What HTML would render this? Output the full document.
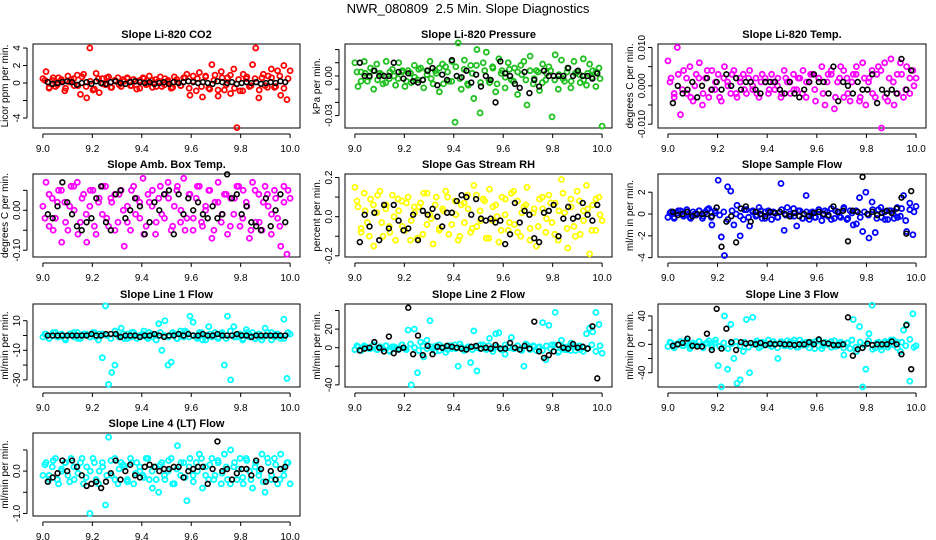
<!DOCTYPE html>
<html><head><meta charset="utf-8"><style>
html,body{margin:0;padding:0;background:#fff;width:936px;height:540px;overflow:hidden}
svg{display:block;font-family:"Liberation Sans",sans-serif}
</style></head><body>
<svg id="chart" width="936" height="540" viewBox="0 0 936 540">
<text x="468" y="13" text-anchor="middle" font-size="13" xml:space="preserve">NWR_080809  2.5 Min. Slope Diagnostics</text>
</svg>
<script>
const titles=["Slope Li-820 CO2","Slope Li-820 Pressure","Slope Li-820 Temp.","Slope Amb. Box Temp.","Slope Gas Stream RH","Slope Sample Flow","Slope Line 1 Flow","Slope Line 2 Flow","Slope Line 3 Flow","Slope Line 4 (LT) Flow"];
const yTitles=["Licor ppm per min.","kPa per min.","degrees C per min.","degrees C per min.","percent per min.","ml/m in per min.","ml/min per min.","ml/min per min.","ml/min per min.","ml/min per min."];
const colors=["#ff0000","#1fc01f","#ff00ff","#ff00ff","#ffff00","#0000ff","#00ffff","#00ffff","#00ffff","#00ffff"];
const xTicks=[9.0,9.2,9.4,9.6,9.8,10.0];
const xTickLabels=["9.0","9.2","9.4","9.6","9.8","10.0"];
const yTicks=[[-4,-2,0,2,4],[-0.03,-0.02,-0.01,0,0.01,0.02],[-0.01,-0.005,0,0.005,0.01],[-0.1,-0.05,0,0.05],[-0.2,-0.1,0,0.1,0.2],[-4,-2,0,2],[-30,-20,-10,0,10],[-40,-20,0,20,40],[-40,-20,0,20,40],[-1,-0.5,0,0.5]];
const yTickLabels=[["-4","","0","2","4"],["-0.03","","","0.00","",""],["-0.010","","0.000","","0.010"],["-0.10","","0.00",""],["-0.2","","0.0","","0.2"],["-4","-2","0","2"],["-30","","-10","","10"],["-40","","0","20",""],["-40","","0","","40"],["-1.0","","0.0",""]];
const yLims=[[-5.14,4.46],[-0.0394,0.0242],[-0.011,0.0109],[-0.117,0.0908],[-0.206,0.218],[-3.94,3.67],[-34.8,21.3],[-42.3,47],[-60.1,56.8],[-1.06,0.9]];
const colVals=[
[0.5,1.3,-0.6,0.3,-0.4,0.6,0.2,-0.9,0.8,0.4,-0.3,0.9,-1.3,1.0,-1.7,4.0,-0.8,1.1,-1.1,0.5,-0.2,0.7,-0.5,0.3,0.6,-0.4,0.2,0.5,-0.3,0.4,-0.7,0.3,0.6,-0.2,0.8,-0.5,0.4,0.2,-0.4,0.5,0.3,-0.6,0.7,0.1,-0.3,0.6,1.0,-1.4,0.8,-0.9,1.2,-1.6,0.7,-0.6,2.1,0.9,-1.5,1.3,-0.8,0.6,-1.2,1.6,-5.1,-0.9,1.0,0.5,-0.4,2.1,4.0,-1.7,0.6,-0.3,0.8,1.6,-0.5,1.4,-1.4,2.0,-1.9,1.4],
[0.010,-0.008,0.003,0.011,-0.004,0.006,-0.010,0.009,0.002,-0.006,0.011,-0.002,0.005,-0.007,0.010,0.003,-0.008,0.004,-0.005,0.008,-0.003,0.006,-0.009,0.004,0.011,-0.006,0.002,-0.012,0.009,0.007,-0.004,0.011,-0.035,0.025,-0.010,0.012,-0.006,0.008,-0.017,0.020,-0.028,0.010,0.018,-0.005,0.007,-0.012,0.013,0.004,-0.009,0.010,-0.003,0.006,-0.014,0.008,0.011,-0.022,0.015,-0.006,0.004,-0.011,0.009,-0.003,0.007,-0.031,0.016,-0.010,0.012,-0.004,0.006,-0.009,0.011,0.003,-0.005,0.013,-0.007,0.009,0.004,-0.008,0.006,-0.038],
[0.0065,0.002,-0.003,0.010,-0.0075,0.004,-0.002,0.005,-0.004,0.003,0.006,-0.005,0.002,-0.003,0.004,-0.001,0.003,-0.004,0.005,0.001,-0.002,0.004,-0.003,0.002,0.003,-0.002,0.004,-0.001,0.002,-0.003,0.003,0.001,-0.002,0.003,-0.001,0.002,-0.003,0.004,0.001,-0.002,0.003,-0.001,0.002,0.004,-0.003,0.001,0.003,-0.004,0.002,0.005,-0.005,0.003,0.004,-0.006,0.001,0.005,-0.003,0.002,-0.004,0.003,0.005,-0.004,0.006,-0.005,0.002,0.004,-0.003,0.005,-0.011,0.006,-0.004,0.007,-0.005,0.003,0.006,-0.003,0.005,-0.002,0.004,0.002],
[0.01,0.07,-0.04,0.03,-0.02,0.05,-0.08,0.02,-0.05,0.06,0.00,0.07,-0.03,0.04,-0.08,0.01,0.05,-0.06,0.03,-0.01,0.06,-0.04,0.02,0.04,-0.03,0.05,-0.09,0.01,-0.05,0.06,0.03,-0.02,0.08,-0.04,0.02,0.05,-0.06,0.03,-0.01,0.04,0.07,-0.05,0.01,0.06,-0.03,0.08,-0.02,0.04,-0.05,0.03,0.06,-0.04,0.00,0.05,-0.07,0.02,0.07,-0.03,0.04,-0.06,0.03,-0.01,0.06,-0.04,0.05,0.02,-0.07,0.07,-0.03,0.04,-0.05,0.06,0.01,-0.06,0.05,-0.02,-0.09,0.06,-0.11,0.03],
[0.15,0.05,-0.08,0.12,-0.03,0.09,-0.15,0.02,0.13,-0.10,0.06,-0.05,0.11,-0.12,0.03,0.08,-0.07,0.10,-0.02,0.05,-0.11,0.07,0.12,-0.04,0.01,-0.14,0.10,-0.06,0.04,0.13,-0.09,0.02,0.08,-0.12,0.06,-0.03,0.11,-0.08,0.16,-0.05,0.03,0.09,-0.11,0.14,-0.02,0.06,-0.13,0.10,0.01,-0.07,0.12,-0.04,0.08,-0.10,0.05,0.15,-0.06,0.02,-0.15,0.09,0.04,-0.08,0.11,-0.03,0.07,-0.12,0.19,0.02,-0.16,0.09,-0.05,0.13,-0.09,0.03,0.16,-0.19,0.06,-0.07,0.10,-0.02],
[-0.3,0.2,-0.4,0.1,0.3,-0.2,0.4,-0.3,0.2,-0.1,0.3,-0.4,0.2,0.5,-1.0,0.3,3.1,-2.1,-3.8,2.5,2.1,-1.0,0.8,-2.0,-0.5,0.4,-1.1,0.3,-0.2,0.6,-0.4,0.2,0.3,-0.5,0.1,-0.3,2.8,-1.5,0.6,-0.2,0.5,-1.1,0.3,-0.4,1.7,-0.5,0.2,-0.3,0.4,-0.6,0.3,-0.2,0.5,-0.4,0.2,-0.3,0.6,-0.5,0.3,-1.0,-0.9,1.5,-1.6,2.0,-2.2,1.1,-1.7,0.4,-0.3,0.2,-0.5,0.3,-0.4,0.6,-0.2,1.7,-1.6,1.0,-1.9,0.7],
[-1,1,-2,0,2,-1,1,-2,0,1,-1,2,-2,1,0,-1,2,-1,1,-15,20,-33,-25,-20,0,5,-2,1,-1,2,-2,0,1,-1,2,-1,0,8,-10,10,-20,-18,1,-2,3,-1,2,13,9,-1,2,-3,0,6,-1,2,-2,1,-20,13,-30,6,-1,1,-2,4,-1,2,-2,1,-3,5,0,2,-1,1,-2,11,-29,1],
[-2,1,-3,2,0,-1,3,-2,1,-1,2,-3,1,0,-2,3,-1,19,-40,20,-27,6,-10,8,29,-1,2,-3,1,-5,2,-1,3,-20,1,-2,0,-16,18,-25,-1,3,-2,10,-1,15,16,-2,-7,1,11,-1,2,-2,-20,3,-1,2,-3,1,27,-13,24,3,38,-5,8,-2,1,-3,2,0,-2,-4,15,21,17,38,25,-6],
[-3,2,-5,1,4,-2,3,-6,2,-1,4,-3,1,5,-4,2,-30,-60,40,-35,28,-20,-55,-50,-10,35,-40,38,2,-5,3,-1,6,-3,1,-20,4,-2,5,-3,2,-4,6,-1,3,-5,2,4,-2,-6,3,1,-4,5,-2,3,-15,2,-6,35,-10,25,-60,-35,15,55,-5,3,-8,2,-4,6,-1,3,-10,20,28,-52,43,-2],
[-0.1,0.2,-0.2,0.1,0.3,-0.3,0.0,0.2,-0.1,0.3,-0.2,0.1,0.2,-0.3,0.1,-1.0,0.3,-0.2,0.0,0.2,-0.8,0.8,-0.1,0.3,-0.3,0.2,0.1,-0.2,0.3,-0.3,0.2,0.0,-0.1,0.3,-0.2,-0.4,0.1,-0.5,0.2,-0.2,0.0,0.3,-0.3,0.6,-0.1,0.2,-0.7,0.3,-0.1,0.2,0.4,-0.4,0.1,-0.2,0.3,-0.1,0.2,-0.3,0.4,-0.2,0.5,0.1,-0.2,0.3,-0.3,0.3,0.0,-0.4,0.2,-0.1,0.4,-0.5,0.2,-0.2,0.3,-0.3,0.4,-0.1,0.2,-0.3]
];
const bandVals=[
[0.3,-0.5,0.6,-0.2,0.4,-0.6,0.1,0.5,-0.3,0.7,-0.4,0.2,-0.7,0.5,-0.1,0.6,-0.5,0.3,-0.2,0.4,0.6,-0.3,0.2,-0.6,0.5,-0.1,0.3,-0.4,0.7,-0.2,0.1,-0.5,0.4,-0.3,0.6,-0.6,0.2,0.5,-0.4,0.8,-0.7,0.3,-0.8,0.6,-0.2,0.9,-0.6,0.4,-0.9,0.7,-0.3,0.5,-0.8,1.0,-0.5,0.6,-0.4,0.8,-0.6,0.5],
[0.003,-0.004,0.002,-0.001,0.004,-0.003,0.001,-0.005,0.003,0.000,-0.002,0.004,-0.004,0.002,-0.001,0.005,-0.003,0.001,-0.002,0.004,0.006,-0.006,0.003,-0.004,0.007,-0.002,0.005,-0.007,0.002,0.008,-0.005,0.004,-0.003,0.006,-0.006,0.002,-0.001,0.005,-0.004,0.003,0.001,-0.003,0.004,-0.002,0.003,-0.005,0.002,0.004,-0.003,0.001,-0.002,0.003,-0.004,0.002,0.001,-0.003,0.002,-0.001,0.003,-0.002],
[0.001,-0.002,0.003,-0.001,0.002,-0.003,0.000,0.002,-0.002,0.004,-0.001,0.001,-0.003,0.002,0.000,0.003,-0.002,0.001,-0.001,0.002,0.000,-0.002,0.001,0.002,-0.001,0.001,0.000,-0.002,0.002,0.001,-0.001,0.002,-0.002,0.001,0.003,-0.001,0.002,-0.002,0.001,0.003,-0.003,0.002,0.004,-0.002,0.001,0.003,-0.003,0.002,0.001,-0.002,0.003,0.004,-0.003,0.002,0.001,-0.002,0.003,-0.001,0.002,0.000],
[-0.02,0.04,-0.05,0.02,0.05,-0.03,0.01,0.06,-0.06,0.03,-0.01,0.05,-0.04,0.02,0.06,-0.02,0.03,-0.05,0.04,0.00,-0.03,0.05,-0.01,0.02,-0.06,0.04,0.01,-0.03,0.06,-0.02,0.03,-0.04,0.05,0.00,-0.05,0.04,-0.02,0.06,-0.03,0.01,0.05,-0.05,0.02,-0.01,0.04,-0.04,0.03,0.06,-0.02,0.01,-0.05,0.05,-0.03,0.02,0.04,-0.01,0.03,-0.04,0.02,0.05],
[0.08,-0.06,0.03,-0.10,0.06,0.11,-0.03,0.04,-0.08,0.00,0.09,-0.05,0.07,-0.12,0.02,0.05,-0.09,0.12,-0.01,0.06,-0.07,0.03,0.10,-0.04,0.01,-0.10,0.07,0.04,-0.06,0.11,-0.02,0.08,-0.11,0.05,0.00,-0.07,0.09,-0.03,0.13,-0.08,0.02,0.06,-0.12,0.04,-0.05,0.10,-0.01,0.07,-0.09,0.03,0.12,-0.06,0.05,-0.10,0.08,-0.02,0.04,-0.07,0.09,0.01],
[0.1,-0.3,0.3,-0.1,0.2,-0.4,0.0,0.3,-0.2,0.4,-0.3,0.1,-0.1,0.2,-0.5,0.3,0.0,-0.2,0.4,-0.3,0.2,-0.1,0.3,-0.4,0.1,0.2,-0.3,0.4,-0.1,0.0,-0.2,0.3,-0.4,0.2,0.1,-0.3,0.4,-0.1,0.2,-0.5,0.3,-0.2,0.5,-0.4,0.1,0.3,-0.3,0.2,-0.1,0.4,-0.4,0.6,-0.5,0.3,0.0,-0.3,0.5,-0.6,0.4,0.2],
[1,-2,2,-1,0,-3,1,2,-2,0,1,-1,2,-3,1,0,-2,3,-1,1,-2,2,0,-1,3,-2,1,-3,2,0,-1,2,-2,1,3,-1,0,-2,2,-3,1,0,-1,2,-2,3,-1,1,-3,2,0,-2,1,-1,2,-3,1,0,-2,2],
[2,-3,1,-1,3,-2,0,2,-4,1,-1,3,-2,4,0,-3,2,-1,1,-4,3,0,-2,2,-1,4,-3,1,-2,0,3,-1,2,-4,1,-2,3,0,-1,2,-3,4,-2,1,0,-3,2,-1,3,-4,1,-2,5,-3,2,0,-1,3,-4,2],
[3,-4,1,-2,5,-3,0,4,-5,2,-1,6,-3,2,-6,1,4,-2,3,-4,0,5,-3,2,-1,4,-5,1,-2,3,6,-4,2,-1,3,-6,5,-2,0,4,-3,1,-5,2,6,-4,3,-1,5,-7,2,-3,4,-1,6,-5,3,-2,7,-4],
[0.15,-0.1,0.25,-0.2,0.05,0.2,-0.25,0.1,-0.05,0.3,-0.15,0.0,0.2,-0.3,0.1,-0.1,0.25,-0.2,0.05,0.15,-0.25,0.2,-0.05,0.1,-0.15,0.3,0.0,-0.2,0.15,-0.1,0.25,-0.3,0.05,0.2,-0.15,0.1,-0.25,0.0,0.3,-0.1,0.15,-0.2,0.25,-0.05,0.1,-0.3,0.2,0.05,-0.15,0.25,-0.2,0.1,0.0,-0.25,0.3,-0.1,0.15,-0.2,0.05,0.2]
];
const blackVals=[
[0.1,-0.1,0.0,0.1,0.2,0.1,-0.2,0.0,0.1,-0.1,0.2,0.0,-0.1,0.1,0.2,0.0,-0.1,0.1,0.2,0.1,0.0,0.1,-0.1,0.0,0.1,-0.1,0.1,0.0,0.1,0.2,0.1,0.0,0.1,0.0,-0.1,0.2,0.1,0.0,0.1,-0.1,0.0,0.1,0.0,0.1,-0.1,0.0,0.1,0.0,0.2,0.1],
[0.010,0.000,0.000,0.004,0.000,0.000,0.000,0.010,0.003,-0.002,0.002,-0.004,-0.005,-0.003,0.004,0.006,-0.007,0.001,-0.003,0.012,0.000,-0.001,0.004,-0.005,0.001,-0.008,0.000,-0.003,-0.020,0.011,0.002,0.000,-0.006,-0.009,0.003,-0.013,-0.003,-0.008,0.004,0.000,0.000,0.000,0.000,0.006,0.000,0.004,0.000,0.000,-0.002,0.002],
[-0.0045,0.000,-0.002,-0.001,0.001,-0.003,0.000,0.002,-0.001,0.001,-0.001,0.003,0.000,0.002,-0.001,0.001,0.001,-0.001,-0.002,0.001,0.001,0.001,-0.001,-0.002,0.001,-0.002,-0.003,-0.001,0.001,0.003,0.001,0.001,-0.002,0.005,-0.004,0.001,0.000,-0.002,0.001,-0.001,-0.001,0.003,-0.0045,-0.001,-0.002,-0.001,-0.002,0.007,-0.001,0.004],
[-0.01,-0.02,0.01,0.07,0.02,-0.01,-0.04,-0.05,-0.03,-0.02,0.03,0.06,-0.03,-0.05,0.04,0.05,-0.02,0.00,0.03,0.01,-0.06,-0.03,0.02,0.00,0.04,0.05,-0.06,0.04,-0.01,0.03,0.00,0.02,-0.01,-0.02,0.01,-0.02,-0.01,0.09,0.03,0.04,-0.01,0.01,-0.03,-0.04,-0.05,0.03,-0.04,0.00,0.04,-0.03],
[-0.13,0.01,-0.05,0.02,-0.12,0.06,-0.06,0.06,-0.02,-0.07,-0.06,0.01,-0.12,0.03,0.01,0.04,0.00,-0.05,0.02,0.02,0.08,0.11,0.10,0.01,0.09,-0.01,-0.02,-0.01,-0.03,-0.02,-0.14,-0.09,0.07,-0.03,0.03,0.01,-0.11,-0.13,0.02,0.03,0.06,-0.10,-0.01,0.05,-0.01,0.00,0.07,0.01,-0.02,0.06],
[0.2,-0.1,0.0,0.2,-0.2,0.0,0.0,0.0,-0.2,0.6,-3.0,-0.7,-0.2,-2.6,0.5,0.7,-0.7,0.2,0.0,-0.2,0.2,0.1,0.2,0.0,-0.2,0.1,-0.2,0.0,-0.2,0.1,0.2,0.0,-0.1,0.7,0.2,0.3,-2.5,0.3,0.2,3.4,0.0,0.2,-0.1,0.1,0.3,0.1,0.5,1.5,-1.8,2.1],
[0,0,0,0,0,0,0,0,0,1,0,0,1,1,1,-1,0,0,0,-1,0,0,1,0,-1,0,0,1,0,1,0,0,1,0,0,1,0,0,0,1,0,0,-1,0,0,0,0,0,0,0],
[-3,-1,0,6,0,-4,12,-6,-2,0,43,-7,13,-8,2,-7,1,0,2,1,0,-1,-2,1,2,-1,0,-1,3,-1,-1,5,0,-2,2,-1,28,-4,-11,-8,-4,3,0,-1,4,0,1,-1,23,-33],
[-2,0,2,8,-2,-3,-3,15,-8,50,-6,22,3,-8,3,1,2,0,2,-1,1,0,1,0,0,-1,0,0,3,0,7,2,1,-1,-1,0,38,-16,-7,-5,1,-1,0,0,0,4,0,-14,27,-35],
[-0.25,-0.15,-0.05,0.25,0.0,0.25,0.1,-0.1,-0.35,-0.3,-0.25,-0.4,-0.25,-0.05,0.25,-0.2,0.0,0.15,-0.1,-0.15,0.1,0.15,0.1,0.0,0.05,0.05,0.1,0.1,-0.15,0.0,0.05,0.1,0.1,-0.3,0.05,0.7,0.0,0.05,-0.2,-0.05,0.05,0.05,-0.1,0.25,0.05,-0.25,0.0,-0.2,0.05,0.1]
];
const colTimes=colVals[0].map((v,i)=>9+i/79);
const blackTimes=blackVals[0].map((v,i)=>9.02+i*0.0196);

const NS="http://www.w3.org/2000/svg";
const svg=document.getElementById('chart');
const colsX=[[33,300],[345,612],[658,926]];
const rowsY=[[44,128],[174,257],[304,387],[433,516]];
function mk(tag,attrs,parent){const e=document.createElementNS(NS,tag);for(const k in attrs)e.setAttribute(k,attrs[k]);(parent||svg).appendChild(e);return e;}
function slug(s){return s.toLowerCase().replace(/[^a-z0-9]+/g,'-').replace(/^-|-$/g,'');}

titles.forEach((t,p)=>{
  const c=p%3,r=Math.floor(p/3);
  const [L,R]=colsX[c],[T,B]=rowsY[r];
  const xs=v=>L+(v-8.96)/(10.04-8.96)*(R-L);
  const [y0,y1]=yLims[p];
  const ys=v=>B-(v-y0)/(y1-y0)*(B-T);
  const g=mk('g',{});
  
  
  const tt=mk('text',{x:(L+R)/2,y:T-6,'text-anchor':'middle','font-size':11,'font-weight':'bold'},g);
  tt.textContent=t;
  
  
  const box=mk('rect',{x:L,y:T,width:R-L,height:B-T,fill:'none',stroke:'#000','stroke-width':1},g);
  
  
  const xa=mk('g',{},g);
  
  
  mk('line',{x1:xs(xTicks[0]),x2:xs(xTicks[xTicks.length-1]),y1:B+6,y2:B+6,stroke:'#000'},xa);
  xTicks.forEach((v,i)=>{
    mk('line',{x1:xs(v),x2:xs(v),y1:B+6,y2:B+10,stroke:'#000'},xa);
    const lb=mk('text',{x:xs(v),y:B+24,'text-anchor':'middle','font-size':10},xa);
    lb.textContent=xTickLabels[i];
    
    
  });
  const ya=mk('g',{},g);
  
  
  const yt=yTicks[p];
  mk('line',{x1:L-6,x2:L-6,y1:ys(yt[0]),y2:ys(yt[yt.length-1]),stroke:'#000'},ya);
  yt.forEach((v,i)=>{
    mk('line',{x1:L-10,x2:L-6,y1:ys(v),y2:ys(v),stroke:'#000'},ya);
    const s=yTickLabels[p][i];
    if(s){
      const lb=mk('text',{x:L-13,y:ys(v),'text-anchor':'middle','font-size':10,transform:`rotate(-90 ${L-13} ${ys(v)})`},ya);
      lb.textContent=s;
      
      
    }
  });
  const yl=mk('text',{x:L-25,y:(T+B)/2,'text-anchor':'middle','font-size':10,transform:`rotate(-90 ${L-25} ${(T+B)/2})`},g);
  yl.textContent=yTitles[p];
  
  
  const cg=mk('g',{fill:'none',stroke:colors[p],'stroke-width':1.8},g);
  
  
  const bv=bandVals[p];
  bv.forEach((v,i)=>{
    const ci=mk('circle',{cx:xs(9+(i+0.5)/bv.length),cy:ys(v),r:2.5},cg);
    
    
  });
  colVals[p].forEach((v,i)=>{
    const ci=mk('circle',{cx:xs(colTimes[i]),cy:ys(v),r:2.5},cg);
    
    
  });
  const bg=mk('g',{fill:'none',stroke:'#000','stroke-width':1.6},g);
  
  
  blackVals[p].forEach((v,i)=>{
    const ci=mk('circle',{cx:xs(blackTimes[i]),cy:ys(v),r:2.4},bg);
    
    
  });
});
</script>
</body></html>
